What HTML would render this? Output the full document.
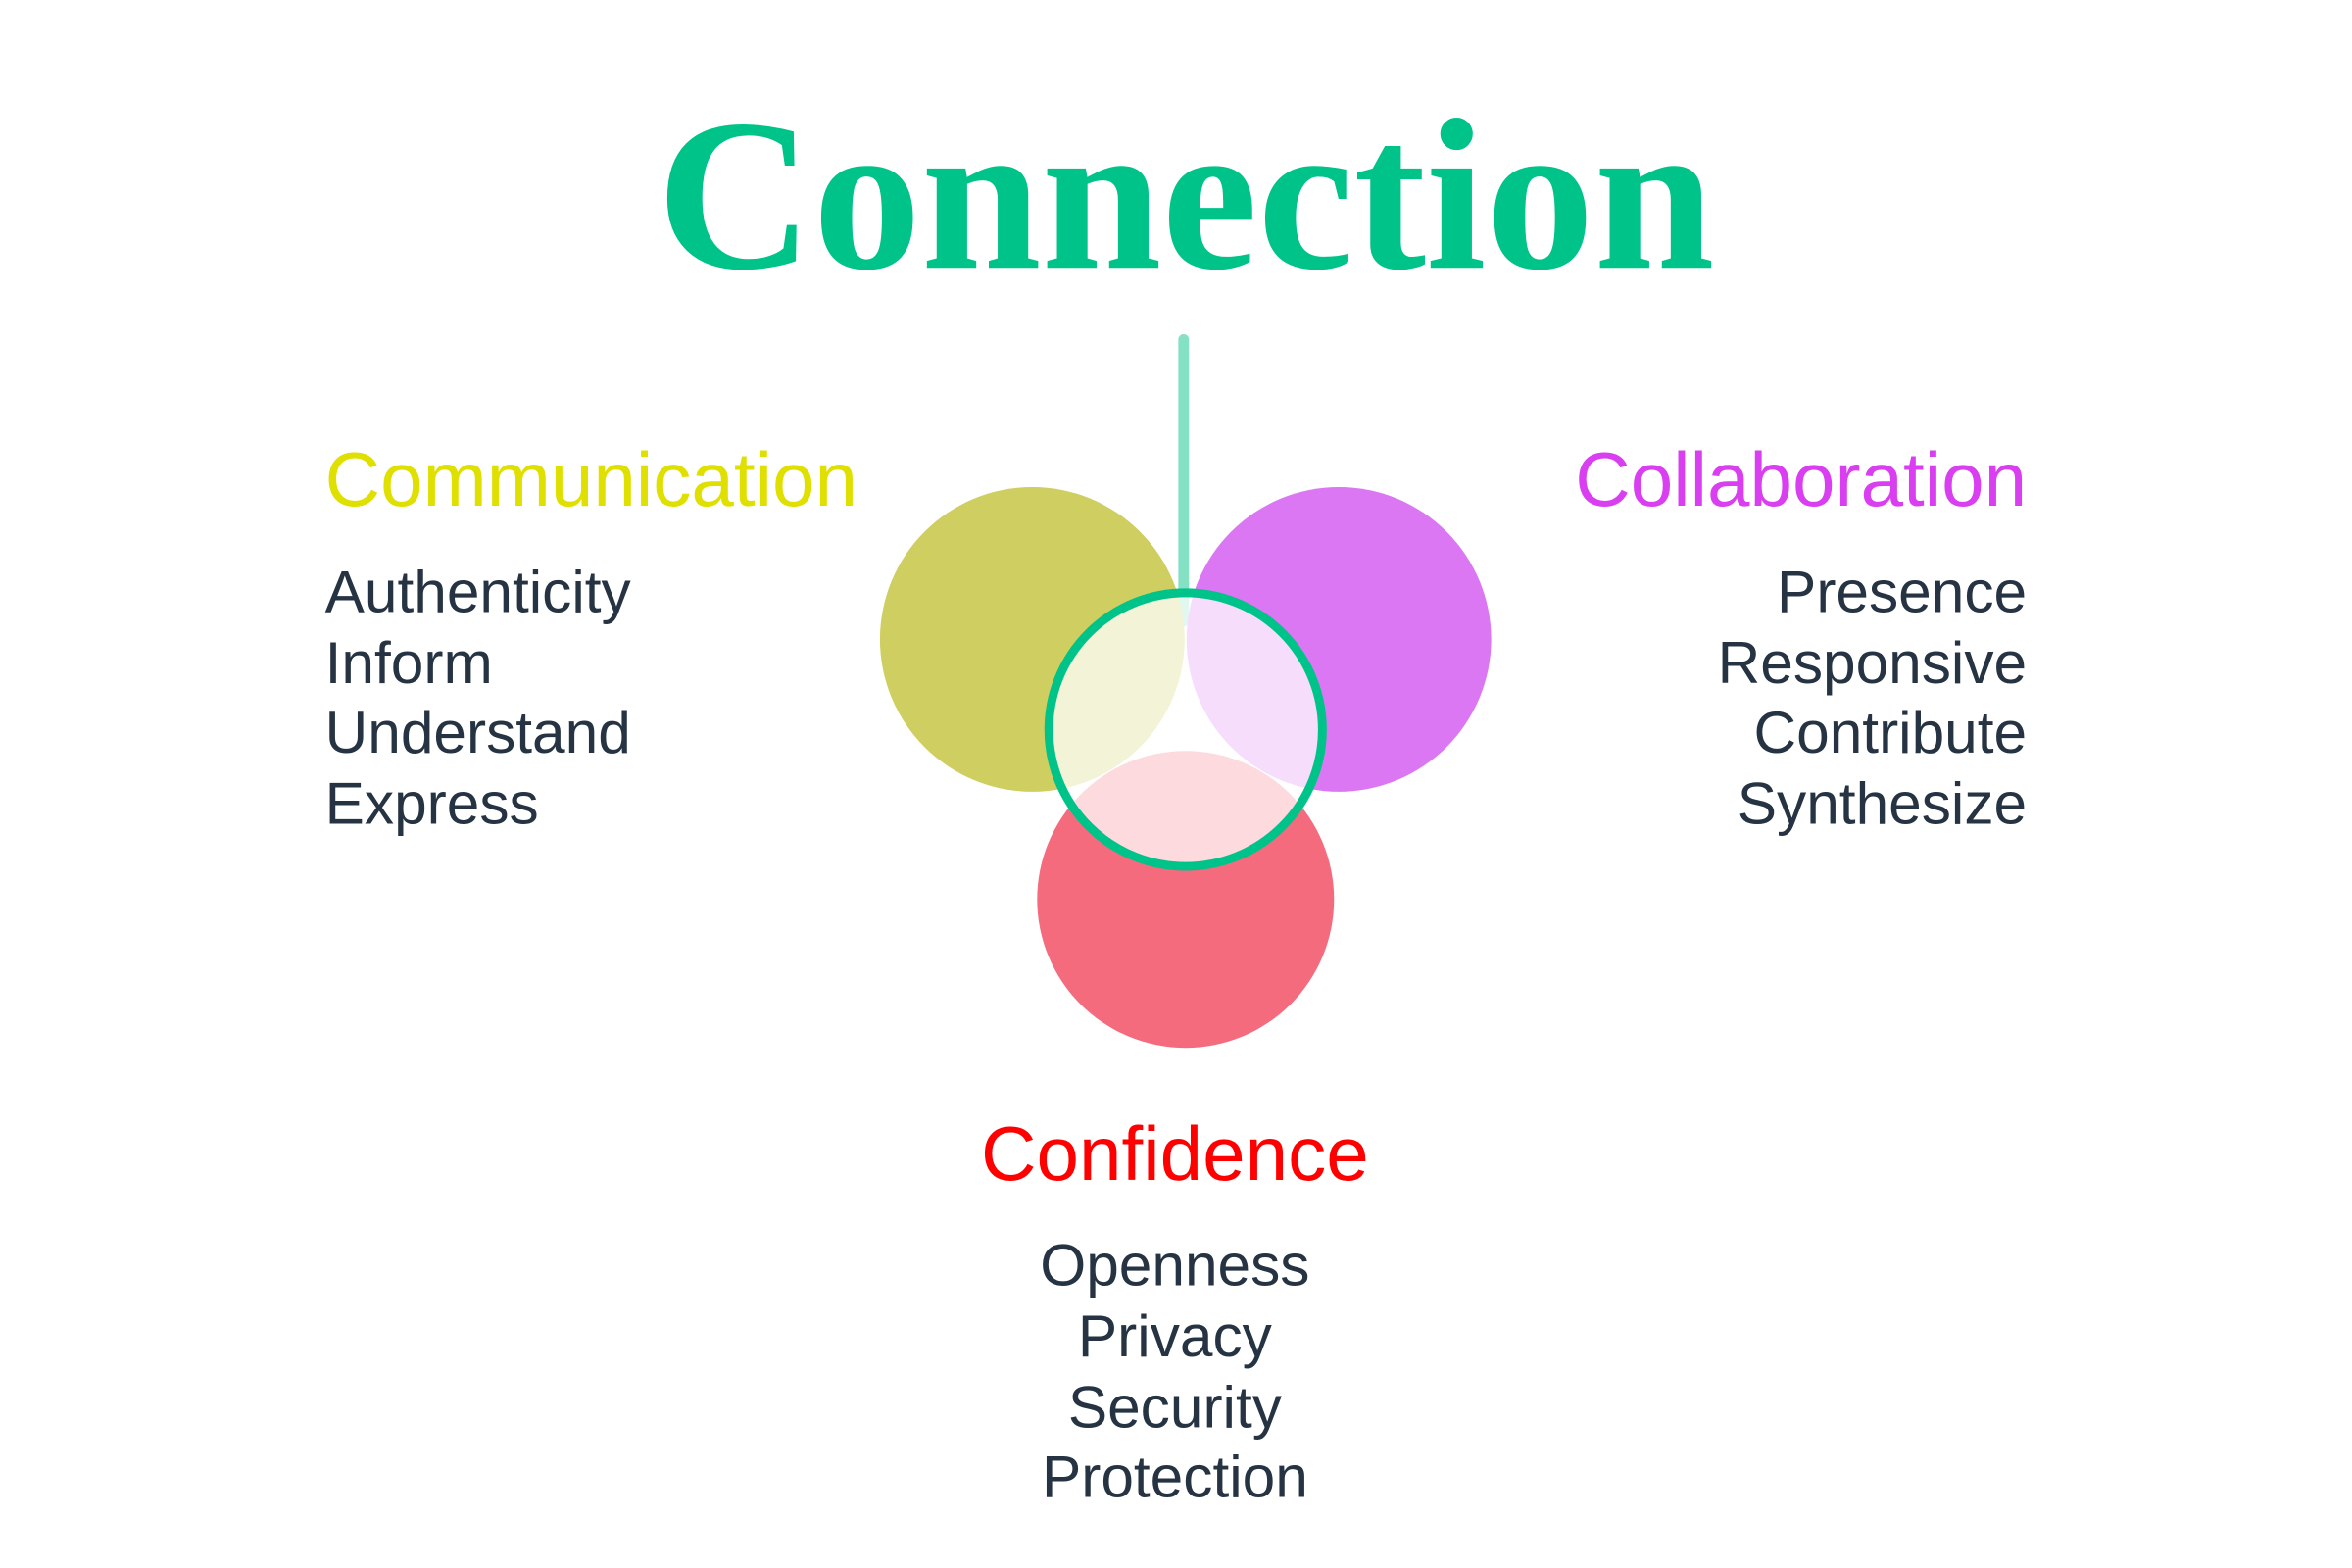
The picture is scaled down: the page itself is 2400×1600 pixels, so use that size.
<!DOCTYPE html>
<html><head><meta charset="utf-8"><style>
html,body{margin:0;padding:0;background:#fff;}
svg{display:block}
</style></head><body>
<svg width="2400" height="1600" viewBox="0 0 2400 1600" xmlns="http://www.w3.org/2000/svg">
<rect width="2400" height="1600" fill="#fff"/>
<g transform="scale(0.99)">
<text x="1222" y="276" text-anchor="middle" font-family="Liberation Serif, serif" font-weight="bold" font-size="223" fill="#00c389">Connection</text>
<line x1="1220" y1="350" x2="1220" y2="640" stroke="#84e1c4" stroke-width="11" stroke-linecap="round"/>
<circle cx="1064" cy="659" r="157" fill="#cfce60"/>
<circle cx="1380" cy="659" r="157" fill="#db77f2"/>
<circle cx="1222" cy="927" r="153" fill="#f46b7e"/>
<circle cx="1222" cy="752" r="141" fill="#fff" fill-opacity="0.75" stroke="#00c389" stroke-width="9"/>
<g font-family="Liberation Sans, sans-serif">
<text x="335" y="521" font-size="79" fill="#dfe000">Communication</text>
<text x="2089" y="521" font-size="79" fill="#d93ff0" text-anchor="end">Collaboration</text>
<text x="1211" y="1216" font-size="79" fill="#ff0000" text-anchor="middle">Confidence</text>
<g font-size="61" fill="#253342">
<text x="335" y="631">Authenticity</text>
<text x="335" y="704">Inform</text>
<text x="335" y="776">Understand</text>
<text x="335" y="849">Express</text>
<g text-anchor="end">
<text x="2089" y="631">Presence</text>
<text x="2089" y="704">Responsive</text>
<text x="2089" y="776">Contribute</text>
<text x="2089" y="849">Synthesize</text>
</g>
<g text-anchor="middle">
<text x="1211" y="1325">Openness</text>
<text x="1211" y="1398">Privacy</text>
<text x="1211" y="1471">Security</text>
<text x="1211" y="1543">Protection</text>
</g>
</g>
</g>
</g>
</svg>
</body></html>
